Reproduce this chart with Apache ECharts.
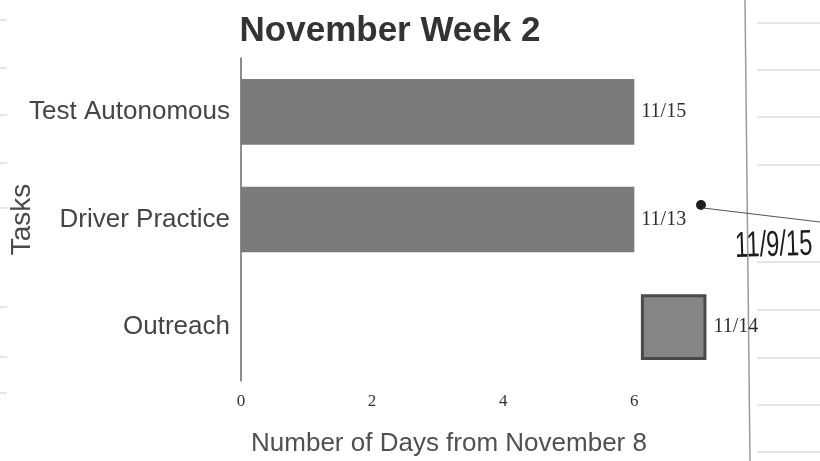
<!DOCTYPE html>
<html>
<head>
<meta charset="utf-8">
<script src="https://cdn.jsdelivr.net/npm/echarts@6/dist/echarts.min.js"></script>
<style>
  html, body { margin: 0; padding: 0; background: #fff; }
  #chart { width: 820px; height: 461px; }
</style>
</head>
<body>
<div id="chart"></div>
<script>
// Tasks, listed top to bottom
const tasks = ['Test Autonomous', 'Driver Practice', 'Outreach'];
// Start of each task, in days from November 8
const startDays = [0, 0, 6.1];
// Length of each task, in days
const durationDays = [6, 6, 1];
// Due date printed at the end of each bar
const dueLabels = ['11/15', '11/13', '11/14'];
// Tick values shown on the day axis
const dayTicks = [0, 2, 4, 6];

const chart = echarts.init(document.getElementById('chart'));

const sans = 'Liberation Sans, Arial, sans-serif';
const serif = 'Liberation Serif, Times New Roman, serif';

// notebook ruling behind the printed sheet
const ruleYRight = [23, 70, 117, 165, 262, 310, 358, 405, 452];
const ruleYLeft = [20, 68, 115, 163, 208, 307, 357, 393];
const paper = [];
paper.push({
  type: 'line', silent: true, z: 0,
  shape: { x1: 745, y1: 0, x2: 750, y2: 461 },
  style: { stroke: '#9a9a9a', lineWidth: 1.5 }
});
ruleYRight.forEach(y => paper.push({
  type: 'line', silent: true, z: 0,
  shape: { x1: 757, y1: y, x2: 820, y2: y },
  style: { stroke: '#cacaca', lineWidth: 1 }
}));
ruleYLeft.forEach(y => paper.push({
  type: 'line', silent: true, z: 0,
  shape: { x1: 0, y1: y, x2: 7, y2: y },
  style: { stroke: '#cccccc', lineWidth: 1 }
}));
// hand-written date note with its pointer
paper.push({
  type: 'circle', silent: true, z: 5,
  shape: { cx: 701, cy: 205, r: 5 },
  style: { fill: '#1e1e1e' }
});
paper.push({
  type: 'line', silent: true, z: 5,
  shape: { x1: 703, y1: 208, x2: 820, y2: 222 },
  style: { stroke: '#555', lineWidth: 1.2 }
});
paper.push({
  type: 'text', silent: true, z: 5,
  x: 735, y: 247, scaleX: 0.66, rotation: 0.03,
  style: {
    text: '11/9/15', fill: '#1c1c1c',
    font: '36px ' + sans,
    textVerticalAlign: 'middle'
  }
});

chart.setOption({
  animation: false,
  backgroundColor: '#ffffff',
  title: {
    text: 'November Week 2',
    left: 385, top: 9, textAlign: 'center',
    textStyle: { fontFamily: sans, fontWeight: 'bold', fontSize: 35, color: '#333' }
  },
  grid: {
    left: 241, right: 107, top: 58, bottom: 80,
    containLabel: false, outerBoundsMode: 'none'
  },
  xAxis: {
    type: 'value',
    min: 0, max: 7.2, interval: 2,
    name: 'Number of Days from November 8',
    nameLocation: 'middle',
    nameGap: 50,
    nameMoveOverlap: false,
    nameTextStyle: { fontFamily: sans, fontSize: 26, color: '#505050', padding: [0, 56, 0, 0] },
    axisLine: { show: false },
    axisTick: { show: false },
    splitLine: { show: false },
    axisLabel: {
      margin: 12,
      fontFamily: serif, fontSize: 17, color: '#333',
      showMaxLabel: false,
      formatter: v => (dayTicks.includes(v) ? String(v) : '')
    }
  },
  yAxis: {
    type: 'category',
    data: tasks,
    inverse: true,
    name: 'Tasks',
    nameLocation: 'middle',
    nameGap: 205,
    nameRotate: 90,
    nameMoveOverlap: false,
    nameTextStyle: { fontFamily: sans, fontSize: 28, color: '#4a4a4a' },
    axisLine: { show: true, lineStyle: { color: '#666', width: 1.5 } },
    axisTick: { show: false },
    axisLabel: { margin: 11, fontFamily: sans, fontSize: 26, color: '#454545' }
  },
  series: [
    {
      name: 'start',
      type: 'bar',
      stack: 'plan',
      data: startDays,
      itemStyle: { color: 'transparent' },
      barCategoryGap: '39%',
      silent: true
    },
    {
      name: 'duration',
      type: 'bar',
      stack: 'plan',
      data: durationDays.map((d, i) => i === 2
        ? { value: d, itemStyle: { color: '#858585', borderColor: '#4a4a4a', borderWidth: 3 } }
        : d),
      itemStyle: { color: '#7b7b7b' },
      label: {
        show: true,
        position: 'right',
        distance: 7,
        fontFamily: serif, fontSize: 20, color: '#2e2e2e',
        formatter: p => dueLabels[p.dataIndex]
      }
    }
  ],
  graphic: paper
});
</script>
</body>
</html>
